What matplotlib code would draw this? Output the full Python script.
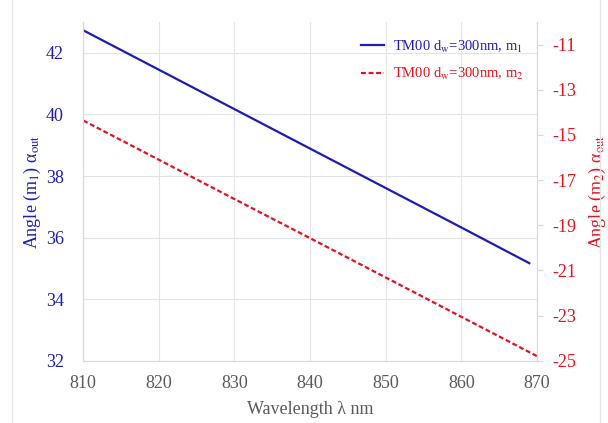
import matplotlib
matplotlib.use('Agg')
import matplotlib.pyplot as plt
from matplotlib.lines import Line2D

plt.rcParams['font.family'] = ['Liberation Serif', 'DejaVu Serif']
plt.rcParams['mathtext.fontset'] = 'stix'
plt.rcParams['axes.unicode_minus'] = False

# 读图估出来的数据
wl_m1 = [810, 820, 830, 840, 850, 860, 869]
ang_m1 = [42.73, 41.45, 40.17, 38.89, 37.61, 36.33, 35.17]
wl_m2 = [810, 820, 830, 840, 850, 860, 870]
ang_m2 = [-14.36, -16.10, -17.84, -19.57, -21.31, -23.05, -24.79]

x_ticks = [810, 820, 830, 840, 850, 860, 870]
left_ticks = [32, 34, 36, 38, 40, 42]
right_ticks = [-25, -23, -21, -19, -17, -15, -13, -11]

blue = '#1c1cb4'
red = '#e3121f'
grid_c = '#e3e3e3'

fig = plt.figure(figsize=(6.08, 4.23), dpi=100)
ax = fig.add_axes([0.137, 0.147, 0.746, 0.801])
ax2 = ax.twinx()

l1, = ax.plot(wl_m1, ang_m1, color=blue, linewidth=1.6,
              label='TM00 d$_\\mathrm{w}$=300nm, m$_1$')
l2, = ax2.plot(wl_m2, ang_m2, color=red, linewidth=1.6, dashes=(2.2, 1.2),
               label='TM00 d$_\\mathrm{w}$=300nm, m$_2$')

ax.set_xlim(810, 870)
ax.set_ylim(32, 43)
ax2.set_ylim(-25, -10)
ax.set_xticks(x_ticks)
ax.set_yticks(left_ticks)
ax2.set_yticks(right_ticks)

ax.grid(True, color=grid_c, linewidth=0.8)
ax.set_axisbelow(True)

for a in (ax, ax2):
    for s in a.spines.values():
        s.set_color('#d9d9d9')
    a.spines['top'].set_visible(False)

ax.tick_params(axis='x', length=0, labelsize=13, labelcolor='#595959', pad=10)
ax.tick_params(axis='y', length=0, labelsize=13, labelcolor=blue, pad=14)
ax2.tick_params(axis='y', length=4, color='#d9d9d9', labelsize=13,
                labelcolor=red, pad=7)

ax.set_xlabel('Wavelength λ nm', fontsize=13, color='#595959', labelpad=7)
ax.set_ylabel('Angle (m$_1$) α$_\\mathrm{out}$', fontsize=13, color=blue, labelpad=2)
ax2.set_ylabel('Angle (m$_2$) α$_\\mathrm{out}$', fontsize=13, color=red, labelpad=8)

leg = ax.legend(handles=[l1, l2], loc='upper right', frameon=False,
                fontsize=10.5, handlelength=1.6, handletextpad=0.6,
                bbox_to_anchor=(1.0, 0.99), labelspacing=0.8)
for txt, c in zip(leg.get_texts(), [blue, red]):
    txt.set_color(c)

# 外框的两条竖线
fig.add_artist(Line2D([0.019, 0.019], [0, 1], color='#e6e6e6', linewidth=1))
fig.add_artist(Line2D([0.987, 0.987], [0, 1], color='#e6e6e6', linewidth=1))

fig.savefig('out.png', dpi=100)
